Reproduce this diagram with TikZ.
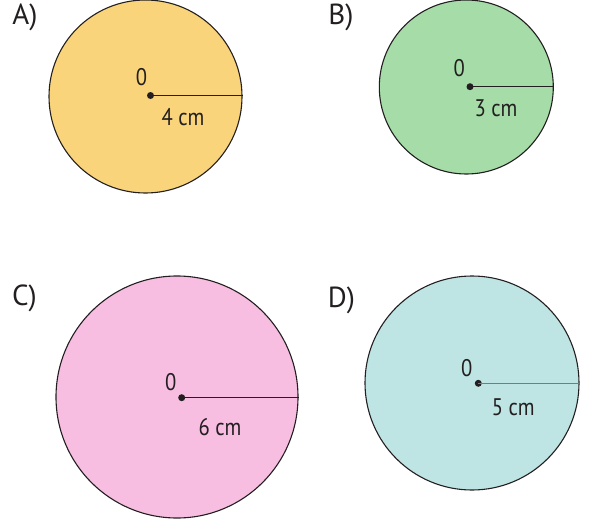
\documentclass[tikz,border=0pt]{standalone}
\usepackage{fontspec}
\setmainfont{PT Sans}
\newfontfamily\labfont[FakeStretch=0.86]{PT Sans}
\definecolor{ink}{RGB}{35,31,32}
\definecolor{fillA}{RGB}{249,212,122}
\definecolor{fillB}{RGB}{165,220,168}
\definecolor{fillC}{RGB}{247,190,226}
\definecolor{fillD}{RGB}{191,228,228}
\begin{document}
\begin{tikzpicture}[x=1pt,y=-1pt,
  disc/.style={circle,draw=ink,line width=1.1pt,inner sep=0pt},
  ctr/.style={circle,fill=ink,inner sep=0pt,minimum size=7pt},
  rad/.style={draw=ink,line width=1pt},
  tag/.style={text=ink,font=\fontsize{29}{31}\selectfont,inner sep=0pt},
  lbl/.style={text=ink,font=\labfont\fontsize{24}{26}\selectfont,inner sep=0pt}]
\useasboundingbox (0,0) rectangle (592,522);
% A
\node[tag] (tA) at (25,17) {A)};
\node[disc,fill=fillA,minimum size=193pt] (cA) at (145.5,96.5) {};
\node[ctr] (dA) at (150.5,95.5) {};
\draw[rad] (dA.center) -- (dA.center -| cA.east);
\node[lbl] (oA) at (141.5,77) {0};
\node[lbl] (rA) at (183,117) {4 cm};
% B
\node[tag] (tB) at (341,17) {B)};
\node[disc,fill=fillB,minimum size=174pt] (cB) at (466.3,87) {};
\node[ctr] (dB) at (470,86.7) {};
\draw[rad,line width=0.7pt] (dB.center) -- (dB.center -| cB.east);
\node[lbl] (oB) at (459.3,68.5) {0};
\node[lbl] (rB) at (496,108) {3 cm};
% C
\node[tag] (tC) at (24.5,298.5) {C)};
\node[disc,fill=fillC,minimum size=242pt] (cC) at (177,397) {};
\node[ctr] (dC) at (181.7,397.7) {};
\draw[rad] (dC.center) -- (dC.center -| cC.east);
\node[lbl] (oC) at (170.7,382) {0};
\node[lbl] (rC) at (220,427) {6 cm};
% D
\node[tag] (tD) at (341.5,300) {D)};
\node[disc,fill=fillD,minimum size=214pt] (cD) at (472,383) {};
\node[ctr] (dD) at (478.3,383.3) {};
\draw[rad,draw=ink!60,line width=0.9pt] (dD.center) -- (dD.center -| cD.east);
\node[lbl] (oD) at (466.7,368.5) {0};
\node[lbl] (rD) at (513.3,407) {5 cm};
\end{tikzpicture}
\end{document}
